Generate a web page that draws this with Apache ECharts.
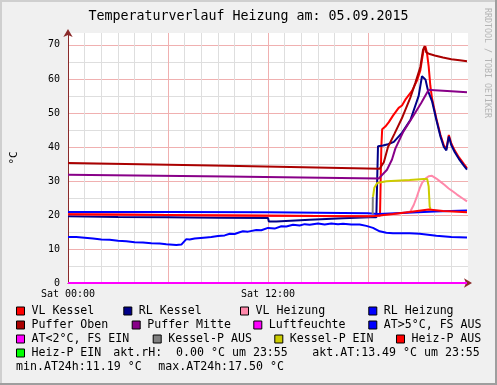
<!DOCTYPE html>
<html><head><meta charset="utf-8">
<script src="https://cdn.jsdelivr.net/npm/echarts@6/dist/echarts.min.js"></script>
<style>html,body{margin:0;padding:0;background:#F0F0F0}#c{width:497px;height:385px}</style>
</head><body><div id="c"></div>
<script>
// ---- data (x = hours since Sat 00:00, y = °C) ----
const titleText = 'Temperaturverlauf Heizung am: 05.09.2015';
const xLabelHours = [0, 12];
const xLabelTexts = ['Sat 00:00', 'Sat 12:00'];
const yLabelValues = [0, 10, 20, 30, 40, 50, 60, 70];
const seriesNames = ['VL Kessel', 'RL Kessel', 'VL Heizung', 'RL Heizung', 'Puffer Oben', 'Puffer Mitte',
  'Luftfeuchte', 'AT>5°C, FS AUS', 'AT<2°C, FS EIN', 'Kessel-P AUS', 'Kessel-P EIN', 'Heiz-P AUS', 'Heiz-P EIN'];
const seriesColors = ['#FF0000', '#000088', '#FF88AA', '#0000FF', '#AA0000', '#880088',
  '#FF00FF', '#0000FF', '#FF00FF', '#808080', '#CCCC00', '#FF0000', '#00FF00'];
const infoTexts = ['akt.rH:  0.00 °C um 23:55', 'akt.AT:13.49 °C um 23:55', 'min.AT24h:11.19 °C', 'max.AT24h:17.50 °C'];

const vlKessel = [[0,20.2],[6,20.0],[12,19.8],[12.05,19.6],[18,19.6],[18.72,19.8],[18.8,40],[18.85,45.2],[19.04,46],
  [19.25,47.3],[19.5,49.2],[19.84,51.5],[20.04,52.2],[20.24,53.9],[20.64,56.5],[20.94,59.5],[21.14,62.5],[21.24,65.7],
  [21.34,68.6],[21.44,69.6],[21.54,67.6],[21.64,63.7],[21.74,58],[21.84,54.3],[22.1,48.4],[22.35,43.5],[22.55,40.5],
  [22.7,39.4],[22.85,43.5],[23.0,41],[23.2,39],[23.45,37],[23.75,35],[23.94,33.8]];
const rlKessel = [[0,19.6],[3,19.4],[6,19.3],[9,19.2],[12,19.1],[12.05,18.1],[12.5,18.1],[14.5,18.6],[16.5,19.0],
  [18.1,19.3],[18.5,19.3],[18.55,30],[18.6,40.2],[18.9,40.4],[19.2,40.8],[19.55,41.5],[20.05,44.2],[20.55,48],
  [21.04,55],[21.24,60.8],[21.34,61.3],[21.45,59.8],[21.6,56.5],[21.84,53.5],[22.1,48],[22.35,43],[22.55,40],
  [22.7,39],[22.85,43.1],[23.0,40.5],[23.2,38.5],[23.45,36.5],[23.75,34.5],[23.94,33.3]];
const vlHeizung = [[0,20.2],[6,20.0],[12,19.8],[12.05,19.6],[18,19.6],[18.4,19.7],[19.5,20.3],[20.3,20.7],[20.54,21.0],
  [20.75,23],[20.94,25.5],[21.1,27.8],[21.24,29.4],[21.45,30.7],[21.64,31.4],[21.84,31.5],[22.1,30.7],[22.34,29.8],
  [22.6,28.8],[22.84,27.8],[23.1,26.9],[23.34,26],[23.64,25],[23.94,24]];
const rlHeizung = [[0,20.9],[6,20.9],[12,20.8],[12.05,20.6],[18,20.5],[18.6,20.3],[20,20.6],[22,21.0],[23.94,21.3]];
const pufferOben = [[0,35.3],[9.5,34.5],[18.7,33.6],[18.78,33.5],[18.95,35.5],[19.2,40],[19.6,44],[20.04,48.5],
  [20.54,54.5],[20.85,59],[21.14,63.5],[21.3,68.5],[21.4,69.6],[21.5,67.8],[21.7,67.3],[22,66.9],[22.5,66.3],
  [23,65.8],[23.5,65.5],[23.94,65.2]];
const pufferMitte = [[0,31.8],[9.5,31.3],[18.64,30.7],[19.14,33.3],[19.44,36.3],[19.64,39.5],[20.1,44.3],[20.64,48.5],
  [21.2,53],[21.64,56.8],[22,56.7],[23,56.4],[23.94,56.1]];
const luftfeuchte = [[0,0],[23.94,0]];
const atWarm = [[0,13.5],[0.5,13.5],[1,13.3],[1.5,13.1],[2,12.8],[2.5,12.7],[3,12.4],[3.5,12.3],[4,12.0],[4.5,11.9],
  [5,11.7],[5.5,11.6],[5.9,11.4],[6.5,11.2],[6.8,11.3],[7.1,12.9],[7.3,12.8],[7.6,13.1],[8.3,13.4],[8.6,13.5],
  [9,13.8],[9.4,14.0],[9.7,14.5],[10,14.4],[10.3,14.9],[10.5,15.2],[10.8,15.1],[11.3,15.6],[11.6,15.5],[12,16.2],
  [12.4,16.0],[12.8,16.7],[13.1,16.6],[13.5,17.1],[13.9,16.9],[14.2,17.3],[14.5,17.1],[15.0,17.5],[15.4,17.2],
  [15.8,17.5],[16.2,17.3],[16.5,17.4],[17.0,17.2],[17.5,17.2],[17.9,16.8],[18.3,16.2],[18.7,15.2],[19.1,14.8],
  [19.5,14.6],[20.5,14.6],[21.1,14.5],[21.6,14.2],[22.1,13.9],[23,13.5],[23.94,13.4]];
const atCold = [];
const kesselPAus = [[18.28,20.3],[18.29,25.3]];
const kesselPEin = [[18.3,25.3],[18.38,28],[18.55,29.4],[19.1,29.9],[20.5,30.3],[21.34,30.6],[21.55,30.6],
  [21.64,28.4],[21.7,22.5],[21.75,21.8]];
const heizPAus = [[0,20.2],[6,20.0],[12,19.8],[12.05,19.6],[18,19.6],[18.4,19.7],[19.5,20.3],[20.5,20.9],
  [21.64,21.6],[22.5,21.2],[23.94,20.8]];
const heizPEin = [];
const seriesData = [vlKessel, rlKessel, vlHeizung, rlHeizung, pufferOben, pufferMitte, luftfeuchte, atWarm, atCold,
  kesselPAus, kesselPEin, heizPAus, heizPEin];

// ---- layout ----
const MONO = 'DejaVu Sans Mono';
const legendPos = [[16,311],[123.3,311],[240,311],[368.3,311],[16,325],[131.7,325],[253.3,325],[368.3,325],
  [16,339],[152.7,339],[274.3,339],[396,339],[16,353]];
const infoPos = [[113.3,353],[312.3,353],[16,367],[158.3,367]];

const chart = echarts.init(document.getElementById('c'), null, {renderer: 'canvas'});
const option = {
  animation: false,
  backgroundColor: '#F0F0F0',
  title: {text: titleText, left: 'center', top: 10, padding: 0,
    textStyle: {fontFamily: MONO, fontSize: 13.3, fontWeight: 'normal', color: '#000'}},
  grid: {left: 68, top: 33, width: 400, height: 250, show: true, backgroundColor: '#FFFFFF', borderWidth: 0,
    containLabel: false, outerBoundsMode: 'none'},
  xAxis: {type: 'value', min: 0, max: 24, interval: 1,
    axisLine: {show: true, onZero: false, lineStyle: {color: '#8B2A2A', width: 1}, symbol: ['none', 'arrow'],
      symbolSize: [7, 8], symbolOffset: [0, 4]},
    axisTick: {show: false},
    axisLabel: {margin: 6, fontFamily: MONO, fontSize: 10, color: '#000', hideOverlap: false,
      showMinLabel: true, showMaxLabel: false,
      formatter: v => { const k = xLabelHours.indexOf(v); return k >= 0 ? xLabelTexts[k] : ''; }},
    splitLine: {show: true, showMaxLine: false,
      lineStyle: {width: 1, color: ['#F0B0B0', '#DEDEDE', '#DEDEDE', '#DEDEDE', '#DEDEDE', '#DEDEDE']}}},
  yAxis: {type: 'value', min: 0, max: 73.5, interval: 5,
    name: '°C', nameLocation: 'middle', nameGap: 48, nameRotate: 90,
    nameTextStyle: {fontFamily: MONO, fontSize: 11, color: '#000'},
    axisLine: {show: true, lineStyle: {color: '#8B2A2A', width: 1}, symbol: ['none', 'arrow'],
      symbolSize: [7, 8], symbolOffset: [0, 4]},
    axisTick: {show: false},
    axisLabel: {margin: 8, fontFamily: MONO, fontSize: 10, color: '#000',
      formatter: v => yLabelValues.indexOf(v) >= 0 ? String(v) : ''},
    splitLine: {show: true, showMaxLine: false, lineStyle: {width: 1, color: ['#F0B0B0', '#DEDEDE']}}},
  legend: seriesNames.map((n, i) => ({
    data: [n], left: legendPos[i][0], top: legendPos[i][1] - 7, padding: 0, icon: 'rect',
    itemWidth: 8, itemHeight: 8, selectedMode: false,
    itemStyle: {borderColor: '#000', borderWidth: 1},
    textStyle: {fontFamily: MONO, fontSize: 11.6, color: '#000', lineHeight: 14, padding: [0, 0, 0, 2]}
  })),
  graphic: [
    {type: 'rect', shape: {x: 0, y: 0, width: 497, height: 2}, style: {fill: '#CFCFCF'}, silent: true},
    {type: 'rect', shape: {x: 0, y: 0, width: 2, height: 385}, style: {fill: '#CFCFCF'}, silent: true},
    {type: 'rect', shape: {x: 0, y: 383, width: 497, height: 2}, style: {fill: '#9E9E9E'}, silent: true},
    {type: 'rect', shape: {x: 495, y: 0, width: 2, height: 385}, style: {fill: '#9E9E9E'}, silent: true},
    {type: 'text', x: 487, y: 8, rotation: -Math.PI / 2, silent: true,
      style: {text: 'RRDTOOL / TOBI OETIKER', fill: '#B4B4B4', font: '8.3px "DejaVu Sans Mono"',
        textAlign: 'left', textVerticalAlign: 'middle'}}
  ].concat(infoTexts.map((t, i) => ({type: 'text', x: infoPos[i][0], y: infoPos[i][1], silent: true,
      style: {text: t, fill: '#000', font: '11.6px "DejaVu Sans Mono"', textAlign: 'left', textVerticalAlign: 'middle'}}))),
  series: seriesNames.map((n, i) => ({
    name: n, type: 'line', data: seriesData[i], color: seriesColors[i], symbol: 'none', showSymbol: false,
    lineStyle: {width: 2, color: seriesColors[i]}, itemStyle: {color: seriesColors[i]},
    silent: true, animation: false, clip: true
  }))
};
chart.setOption(option);
</script></body></html>
